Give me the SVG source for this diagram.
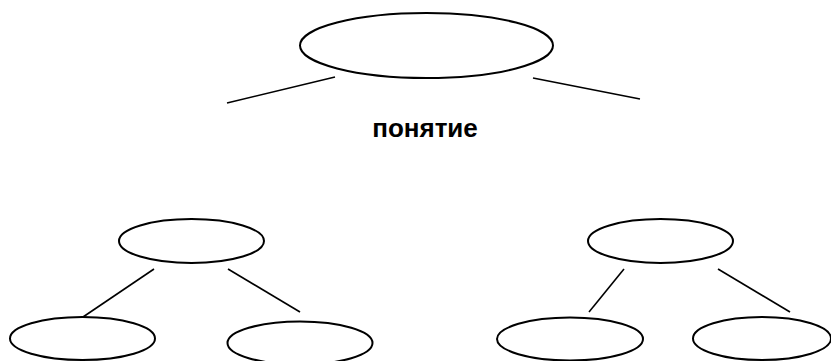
<svg xmlns="http://www.w3.org/2000/svg" width="831" height="361" viewBox="0 0 831 361">
<style>
.n{fill:none;stroke:#000;stroke-width:2}
.c line{stroke:#000;stroke-width:1.6}
.t{font-family:"Liberation Sans",Arial,sans-serif;font-weight:bold;font-size:26px;fill:#000}
</style>
<rect width="831" height="361" fill="#fff"/>
<g id="root"><ellipse class="n" cx="426.5" cy="45.5" rx="126.5" ry="32.5"/></g>
<g id="label"><text class="t" x="425" y="137" text-anchor="middle">понятие</text></g>
<g id="left-top"><ellipse class="n" cx="191.5" cy="241" rx="72.5" ry="22"/></g>
<g id="left-left"><ellipse class="n" cx="82.5" cy="338.5" rx="72.5" ry="21.5"/></g>
<g id="left-right"><ellipse class="n" cx="300" cy="343" rx="72.5" ry="21.5"/></g>
<g id="right-top"><ellipse class="n" cx="660.5" cy="241" rx="72.5" ry="22"/></g>
<g id="right-left"><ellipse class="n" cx="570" cy="339" rx="73" ry="21.5"/></g>
<g id="right-right"><ellipse class="n" cx="762" cy="338.5" rx="69" ry="21.5"/></g>
<g class="c" id="connectors">
<line x1="335" y1="77" x2="227" y2="103"/>
<line x1="533" y1="78" x2="640" y2="99"/>
<line x1="154" y1="269" x2="83" y2="317"/>
<line x1="228" y1="269" x2="300" y2="312"/>
<line x1="624" y1="269" x2="589" y2="312"/>
<line x1="718" y1="269" x2="790" y2="312"/>
</g>
</svg>
